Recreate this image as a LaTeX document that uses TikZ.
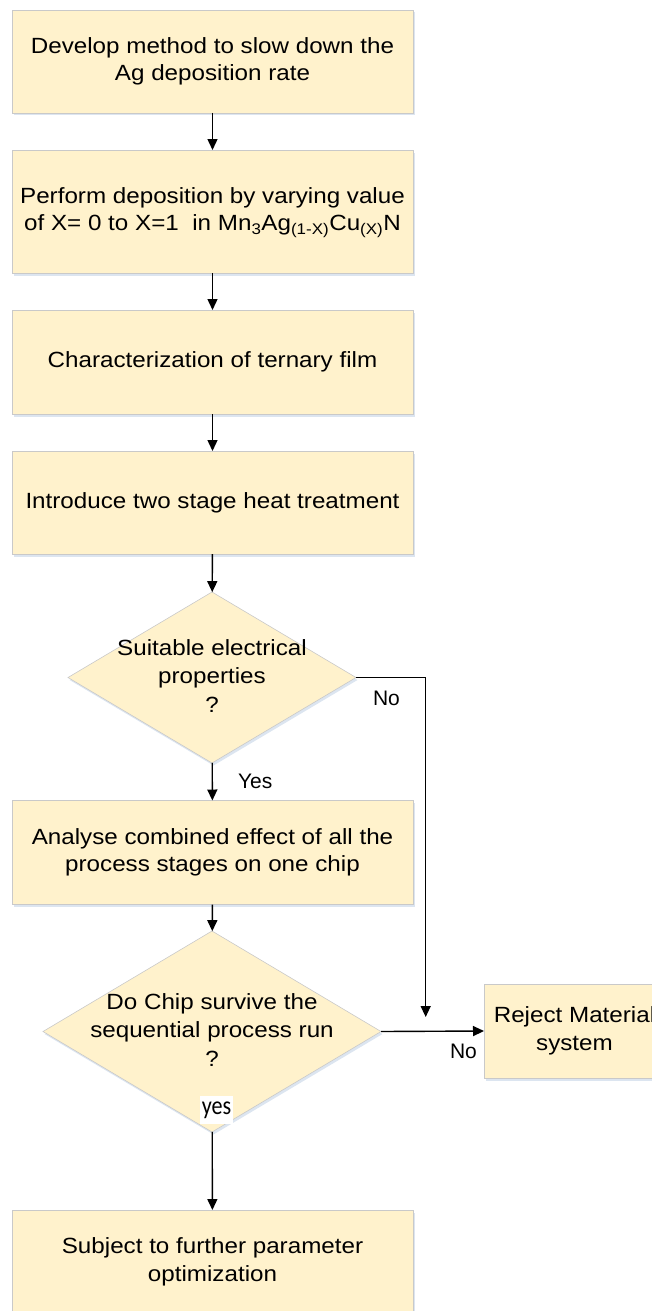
\documentclass[tikz,border=0pt]{standalone}
\usepackage{fontspec}
\setmainfont{Liberation Sans}
\newfontfamily\yesfont{Carlito}
\usepackage{graphicx}
\usetikzlibrary{shapes.geometric,arrows.meta,shadows}

\definecolor{boxfill}{HTML}{FFF2CC}
\definecolor{boxline}{HTML}{C9C9C9}
\definecolor{shade}{HTML}{DCE5F0}

% multi-line text, slightly widened
\newcommand\wtext[1]{\scalebox{1.1}[1]{\begin{tabular}{@{}c@{}}#1\end{tabular}}}

\begin{document}
\begin{tikzpicture}[x=1pt,y=-1pt,
  every node/.style={inner sep=0pt, outer sep=0pt},
  shadowed/.style={drop shadow={shadow xshift=1.5pt, shadow yshift=-2.5pt, fill=shade, opacity=1}},
  stepbox/.style={rectangle, draw=boxline, line width=0.8pt, fill=boxfill, shadowed,
    minimum width=401pt, font=\fontsize{22}{27.5}\selectfont},
  decision/.style={diamond, draw=boxline, line width=0.6pt, fill=boxfill, shadowed},
  dtext/.style={font=\fontsize{22}{28.5}\selectfont},
  flow/.style={line width=1.4pt, -{Triangle[length=11pt,width=10pt]}},
  lbl/.style={font=\fontsize{21}{25}\selectfont},
]
\useasboundingbox (0,0) rectangle (651,1311);

% process steps
\node[stepbox, minimum height=103pt] (b1) at (212.5,61.5)
  {\wtext{Develop method to slow down the\\Ag deposition rate}};
\node[stepbox, minimum height=123pt] (b2) at (212.5,211.5)
  {\wtext{Perform deposition by varying value\\of X= 0 to X=1\ \ in Mn\textsubscript{3}Ag\textsubscript{(1-X)}Cu\textsubscript{(X)}N}};
\node[stepbox, minimum height=104pt] (b3) at (212.5,362)
  {\wtext{Characterization of ternary film}};
\node[stepbox, minimum height=103pt] (b4) at (212.5,502.5)
  {\wtext{Introduce two stage heat treatment}};

% first decision
\node[decision, minimum width=288pt, minimum height=171pt] (d1) at (212,677.5) {};
\node[dtext] (d1t) at (212,678) {\wtext{Suitable electrical\\properties\\?}};

\node[stepbox, minimum height=104pt] (b5) at (212.5,852.5)
  {\wtext{Analyse combined effect of all the\\process stages on one chip}};

% second decision
\node[decision, minimum width=338pt, minimum height=201pt] (d2) at (212,1031.5) {};
\node[dtext] (d2t) at (212,1032) {\wtext{Do Chip survive the\\sequential process run\\?}};

\node[stepbox, minimum width=181pt, minimum height=94pt] (rej) at (574.5,1031)
  {\wtext{Reject Material\\system}};

\node[stepbox, minimum height=104pt] (b6) at (212.5,1262)
  {\wtext{Subject to further parameter\\optimization}};

% connectors
\draw[flow] (b1) -- (b2);
\draw[flow] (b2) -- (b3);
\draw[flow] (b3) -- (b4);
\draw[flow] (b4) -- (d1);
\draw[flow] (d1) -- (b5);
\draw[flow] (b5) -- (d2);
\draw[flow] (d2) -- (b6);
\draw[flow] (d2.east) -- (rej.west);
\coordinate (noend) at (425.7,1017);
\draw[flow] (d1.east) -- (d1.east -| noend) -- (noend);

% branch labels
\node[lbl, anchor=base west] (noA) at (373,705) {No};
\node[lbl, anchor=base west] (yesA) at (238,788) {Yes};
\node[lbl, anchor=base west] (noB) at (450,1058) {No};
\node[fill=white, minimum width=33pt, minimum height=28pt,
  font=\yesfont\fontsize{26}{28}\selectfont] (yesB) at (216.5,1110)
  {\scalebox{0.85}[1]{yes}};
\end{tikzpicture}
\end{document}
